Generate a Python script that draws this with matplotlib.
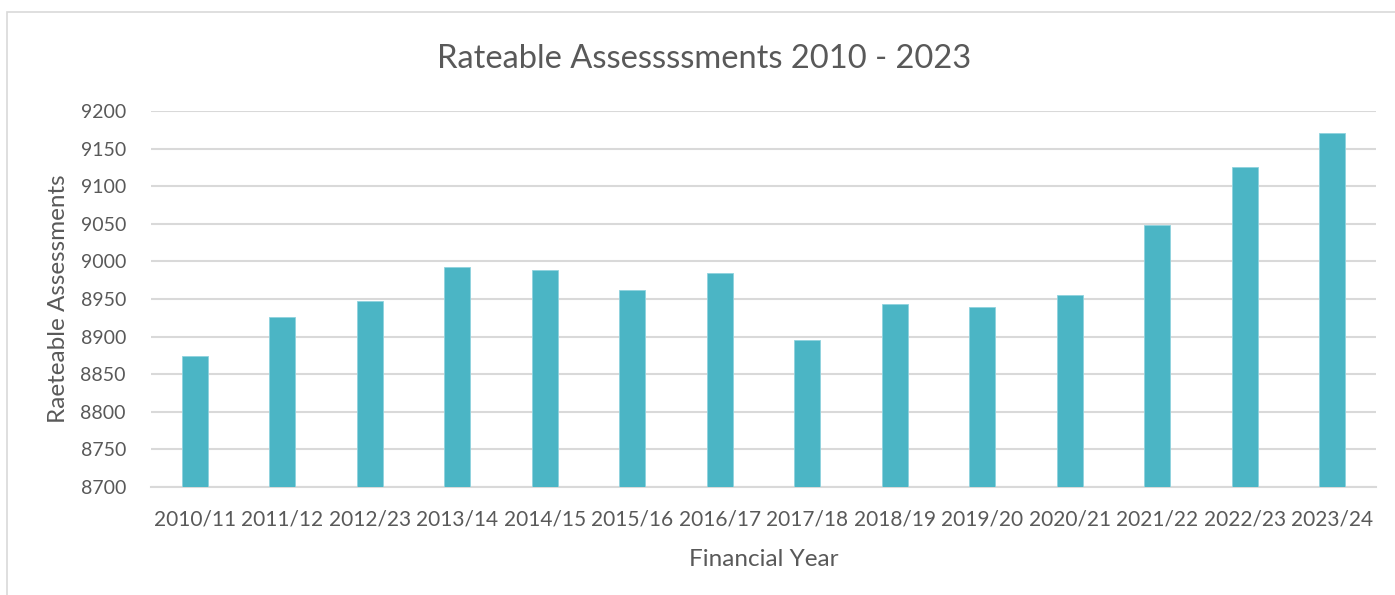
import matplotlib.pyplot as plt
from matplotlib.patches import Rectangle

years = ['2010/11', '2011/12', '2012/23', '2013/14', '2014/15', '2015/16', '2016/17',
         '2017/18', '2018/19', '2019/20', '2020/21', '2021/22', '2022/23', '2023/24']
assessments = [8874, 8926, 8948, 8992, 8988, 8962, 8984,
               8896, 8944, 8939, 8956, 9048, 9125, 9171]
y_ticks = [8700, 8750, 8800, 8850, 8900, 8950, 9000, 9050, 9100, 9150, 9200]

plt.rcParams['font.family'] = ['Lato', 'DejaVu Sans']
txt = '#595959'
grid = '#d9d9d9'

fig = plt.figure(figsize=(13.95, 5.95), dpi=100)
ax = fig.add_axes([0.1082, 0.1815, 0.8782, 0.6319])

x = range(len(years))
ax.bar(x, assessments, width=0.3, color='#4bb5c5', edgecolor='#8fd3de', linewidth=0.6, zorder=3)

ax.set_xlim(-0.5, len(years) - 0.5)
ax.set_ylim(8700, 9200)
ax.set_yticks(y_ticks)
ax.set_xticks(list(x))
ax.set_xticklabels(years)
ax.tick_params(axis='both', length=0, colors=txt)
ax.tick_params(axis='x', pad=16, labelsize=15)
ax.tick_params(axis='y', pad=18, labelsize=14)
ax.grid(axis='y', color=grid, linewidth=1.5, zorder=0)
for s in ['top', 'right', 'left']:
    ax.spines[s].set_visible(False)
ax.spines['bottom'].set_color(grid)
ax.spines['bottom'].set_linewidth(1.5)

ax.set_xlabel('Financial Year', fontsize=17.5, color=txt, labelpad=14)
ax.set_ylabel('Raeteable Assessments', fontsize=17.5, color=txt, labelpad=8)

fig.text(0.505, 0.9, 'Rateable Assessssments 2010 - 2023', ha='center', va='center',
         fontsize=23.5, color=txt)

# chart area border (cropped at right and bottom)
fig.patches.append(Rectangle((7 / 1395, -0.1), 1.2, 1 - 12 / 595 + 0.1, transform=fig.transFigure,
                             fill=False, edgecolor=grid, linewidth=1.2))

fig.savefig('out.png', dpi=100)
